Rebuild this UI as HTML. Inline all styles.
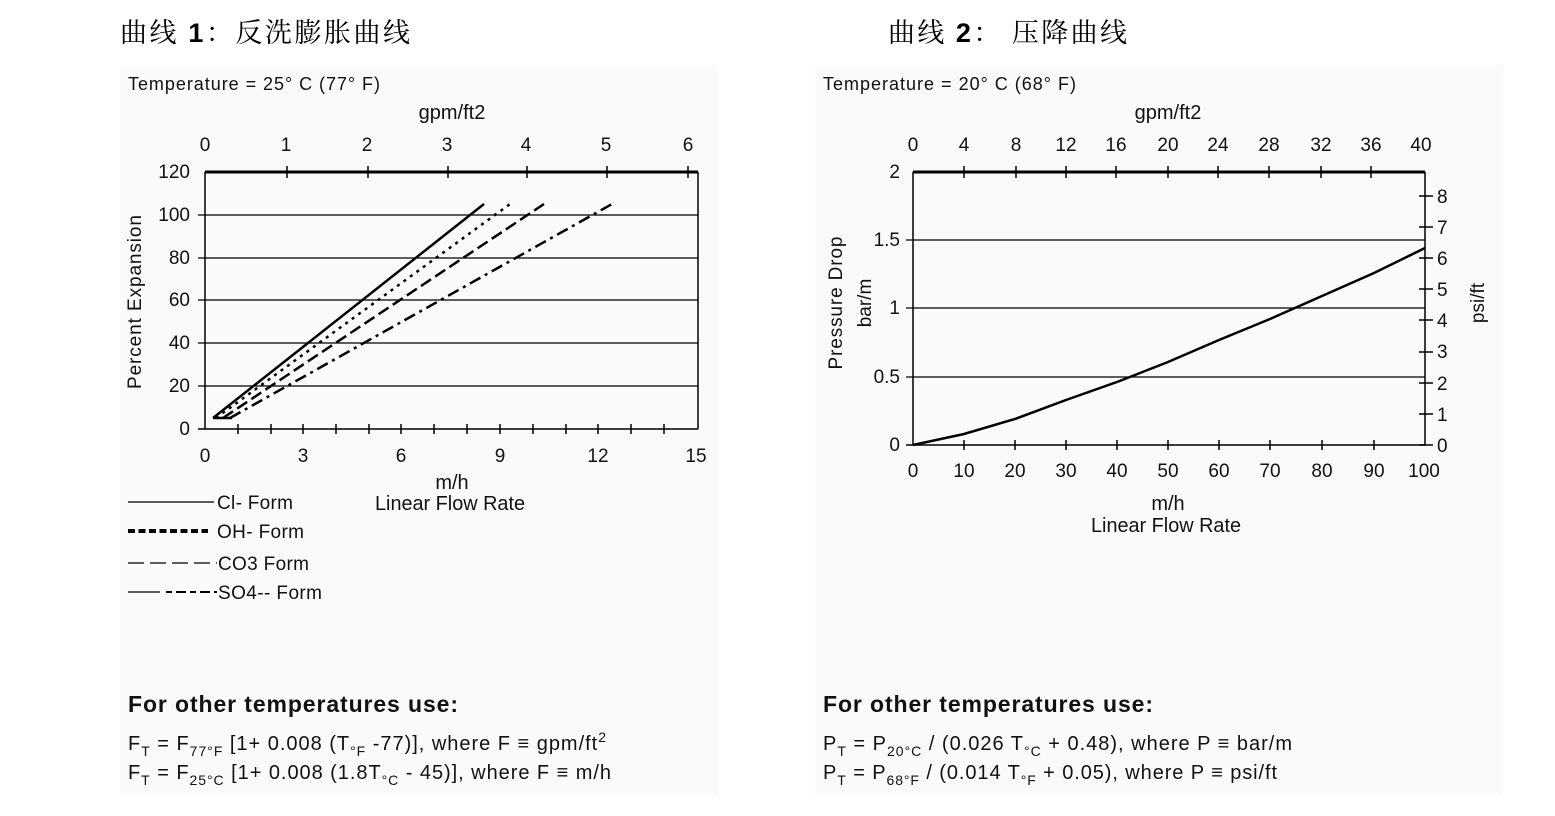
<!DOCTYPE html>
<html><head><meta charset="utf-8"><style>
html,body{margin:0;padding:0;background:#fff;}
svg{display:block;font-family:"Liberation Sans",Arial,sans-serif;}
.cj{font-family:"Liberation Serif","Noto Serif CJK SC","Noto Sans CJK SC",serif;}
</style></head><body>
<svg width="1555" height="816" viewBox="0 0 1555 816" xmlns="http://www.w3.org/2000/svg">
<rect x="120" y="65" width="598" height="730" fill="#fafafa"/>
<rect x="815" y="65" width="688" height="730" fill="#fafafa"/>
<text x="120" y="42" font-size="27" class="cj" textLength="290">曲线 <tspan font-family="Liberation Sans" font-weight="bold">1</tspan>：反洗膨胀曲线</text>
<text x="888" y="42" font-size="27" class="cj" textLength="239">曲线 <tspan font-family="Liberation Sans" font-weight="bold">2</tspan>： 压降曲线</text>

<!-- Chart 1 -->
<g font-size="19" fill="#111">
<text x="128" y="90" font-size="18" textLength="252">Temperature = 25° C (77° F)</text>
<text x="452" y="119" text-anchor="middle" font-size="20">gpm/ft2</text>
<g text-anchor="middle">
<text x="205" y="151">0</text><text x="286" y="151">1</text><text x="367" y="151">2</text><text x="447" y="151">3</text><text x="526" y="151">4</text><text x="606" y="151">5</text><text x="688" y="151">6</text>
<text x="205" y="462">0</text><text x="303" y="462">3</text><text x="401" y="462">6</text><text x="500" y="462">9</text><text x="598" y="462">12</text><text x="696" y="462">15</text>
<text x="452" y="489" font-size="20">m/h</text><text x="450" y="510" font-size="20" textLength="150" lengthAdjust="spacingAndGlyphs">Linear Flow Rate</text>
</g>
<g text-anchor="end">
<text x="190" y="178">120</text><text x="190" y="221">100</text><text x="190" y="264">80</text><text x="190" y="306">60</text><text x="190" y="349">40</text><text x="190" y="392">20</text><text x="190" y="435">0</text>
</g>
<text transform="translate(141,302) rotate(-90)" text-anchor="middle" textLength="174" font-size="19">Percent Expansion</text>
</g>
<g stroke="#000" fill="none">
<line x1="205" y1="172" x2="698" y2="172" stroke-width="3"/>
<line x1="205" y1="172" x2="205" y2="429" stroke-width="1.5"/>
<line x1="698" y1="172" x2="698" y2="429" stroke-width="1.5"/>
<line x1="198" y1="429" x2="698" y2="429" stroke-width="1.5"/>
<g stroke-width="1.3">
<line x1="198" y1="386" x2="698" y2="386"/><line x1="198" y1="343" x2="698" y2="343"/><line x1="198" y1="300" x2="698" y2="300"/><line x1="198" y1="258" x2="698" y2="258"/><line x1="198" y1="215" x2="698" y2="215"/>
</g>
<g stroke-width="1.5">
<path d="M287 166v12M368 166v12M448 166v12M527 166v12M607 166v12M688 166v12"/>
<path d="M238 424v10M271 424v10M303 424v10M336 424v10M369 424v10M401 424v10M434 424v10M467 424v10M500 424v10M533 424v10M566 424v10M598 424v10M631 424v10M664 424v10"/>
</g>
<g stroke-width="2.5">
<path d="M213 418L484 204"/>
<path d="M216 418L510 204" stroke-dasharray="3,5"/>
<path d="M223 418L544 204" stroke-dasharray="12,5"/>
<path d="M230 418L612 204" stroke-dasharray="12,5,3,5"/>
<path d="M213 418H232"/>
</g>
<line x1="128" y1="502" x2="214" y2="502" stroke-width="1.3"/>
<line x1="128" y1="531" x2="208" y2="531" stroke-width="4" stroke-dasharray="7,3.5"/>
<line x1="128" y1="563" x2="217" y2="563" stroke-width="1.3" stroke-dasharray="16,6"/>
<line x1="128" y1="592" x2="160" y2="592" stroke-width="1.3"/>
<line x1="166" y1="592" x2="217" y2="592" stroke-width="2" stroke-dasharray="6,4,10,4"/>
</g>
<g font-size="19" fill="#111">
<text x="217" y="509" textLength="76">Cl- Form</text>
<text x="217" y="538" textLength="87">OH- Form</text>
<text x="218" y="570" textLength="91">CO3 Form</text>
<text x="218" y="599" textLength="104">SO4-- Form</text>
<text x="128" y="712" font-size="23" font-weight="bold" textLength="330">For other temperatures use:</text>
<text x="128" y="750" font-size="20" textLength="478">F<tspan font-size="14" dy="6">T</tspan><tspan dy="-6"> = F</tspan><tspan font-size="14" dy="6">77°F</tspan><tspan dy="-6"> [1+ 0.008 (T</tspan><tspan font-size="14" dy="6">°F</tspan><tspan dy="-6"> -77)], where F ≡ gpm/ft</tspan><tspan font-size="14" dy="-8">2</tspan></text>
<text x="128" y="779" font-size="20" textLength="483">F<tspan font-size="14" dy="6">T</tspan><tspan dy="-6"> = F</tspan><tspan font-size="14" dy="6">25°C</tspan><tspan dy="-6"> [1+ 0.008 (1.8T</tspan><tspan font-size="14" dy="6">°C</tspan><tspan dy="-6"> - 45)], where F ≡ m/h</tspan></text>
</g>

<!-- Chart 2 -->
<g font-size="19" fill="#111">
<text x="823" y="90" font-size="18" textLength="253">Temperature = 20° C (68° F)</text>
<text x="1168" y="119" text-anchor="middle" font-size="20">gpm/ft2</text>
<g text-anchor="middle">
<text x="913" y="151">0</text><text x="964" y="151">4</text><text x="1016" y="151">8</text><text x="1066" y="151">12</text><text x="1116" y="151">16</text><text x="1168" y="151">20</text><text x="1218" y="151">24</text><text x="1269" y="151">28</text><text x="1321" y="151">32</text><text x="1371" y="151">36</text><text x="1421" y="151">40</text>
<text x="913" y="477">0</text><text x="964" y="477">10</text><text x="1015" y="477">20</text><text x="1066" y="477">30</text><text x="1117" y="477">40</text><text x="1168" y="477">50</text><text x="1219" y="477">60</text><text x="1270" y="477">70</text><text x="1322" y="477">80</text><text x="1374" y="477">90</text><text x="1424" y="477">100</text>
<text x="1168" y="510" font-size="20">m/h</text><text x="1166" y="532" font-size="20" textLength="150" lengthAdjust="spacingAndGlyphs">Linear Flow Rate</text>
</g>
<g text-anchor="end">
<text x="900" y="178">2</text><text x="900" y="246">1.5</text><text x="900" y="314">1</text><text x="900" y="383">0.5</text><text x="900" y="451">0</text>
</g>
<g>
<text x="1437" y="452">0</text><text x="1437" y="421">1</text><text x="1437" y="390">2</text><text x="1437" y="358">3</text><text x="1437" y="327">4</text><text x="1437" y="296">5</text><text x="1437" y="265">6</text><text x="1437" y="234">7</text><text x="1437" y="203">8</text>
</g>
<text transform="translate(842,303) rotate(-90)" text-anchor="middle" textLength="133">Pressure Drop</text>
<text transform="translate(871,303) rotate(-90)" text-anchor="middle">bar/m</text>
<text transform="translate(1484,303) rotate(-90)" text-anchor="middle">psi/ft</text>
</g>
<g stroke="#000" fill="none">
<line x1="913" y1="172" x2="1425" y2="172" stroke-width="3"/>
<line x1="913" y1="172" x2="913" y2="445" stroke-width="1.5"/>
<line x1="1425" y1="172" x2="1425" y2="445" stroke-width="1.5"/>
<line x1="906" y1="445" x2="1425" y2="445" stroke-width="1.5"/>
<g stroke-width="1.3">
<line x1="906" y1="377" x2="1425" y2="377"/><line x1="906" y1="308" x2="1425" y2="308"/><line x1="906" y1="240" x2="1425" y2="240"/>
</g>
<g stroke-width="1.5">
<path d="M964 166v12M1016 166v12M1066 166v12M1116 166v12M1168 166v12M1218 166v12M1269 166v12M1321 166v12M1371 166v12"/>
<path d="M964 440v10M1015 440v10M1066 440v10M1117 440v10M1168 440v10M1219 440v10M1270 440v10M1322 440v10M1374 440v10"/>
<path d="M1419 445h14M1419 414h14M1419 383h14M1419 352h14M1419 320h14M1419 289h14M1419 258h14M1419 227h14M1419 196h14"/>
</g>
<path stroke-width="2.5" d="M913 445 L964 434 L1015 419 L1066 400 L1117 382 L1168 362 L1219 340 L1270 319 L1322 296 L1374 273 L1425 248"/>
</g>
<g font-size="19" fill="#111">
<text x="823" y="712" font-size="23" font-weight="bold" textLength="330">For other temperatures use:</text>
<text x="823" y="750" font-size="20" textLength="469">P<tspan font-size="14" dy="6">T</tspan><tspan dy="-6"> = P</tspan><tspan font-size="14" dy="6">20°C</tspan><tspan dy="-6"> / (0.026 T</tspan><tspan font-size="14" dy="6">°C</tspan><tspan dy="-6"> + 0.48), where P ≡ bar/m</tspan></text>
<text x="823" y="779" font-size="20" textLength="454">P<tspan font-size="14" dy="6">T</tspan><tspan dy="-6"> = P</tspan><tspan font-size="14" dy="6">68°F</tspan><tspan dy="-6"> / (0.014 T</tspan><tspan font-size="14" dy="6">°F</tspan><tspan dy="-6"> + 0.05), where P ≡ psi/ft</tspan></text>
</g>
</svg>
</body></html>
